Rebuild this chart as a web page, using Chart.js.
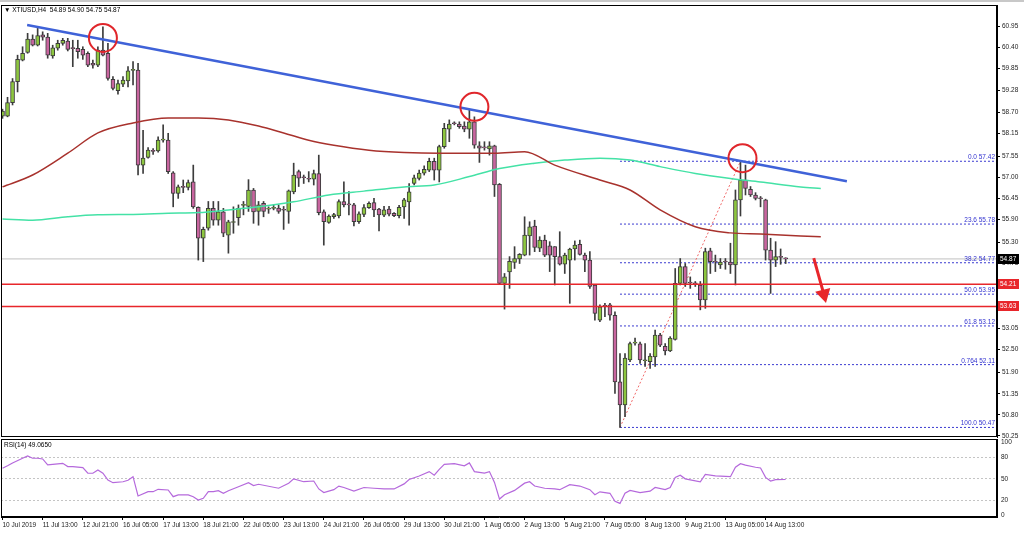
<!DOCTYPE html>
<html lang="en">
<head>
<meta charset="UTF-8">
<title>XTIUSD H4</title>
<script src="https://cdn.jsdelivr.net/npm/chart.js"></script>
<style>
    body { margin: 0; background: #fff; }
    #wrap { position: relative; width: 1024px; height: 534px; overflow: hidden; background: #fff; }
    #topbar { position: absolute; left: 0; top: 0; width: 1024px; height: 2px; background: #c8c8c8; }
    #priceChart { position: absolute; left: 0; top: 0; }
    #rsiChart { position: absolute; left: 0; top: 438px; }
    .hdr { position: absolute; font: 6.5px "Liberation Sans", Arial, sans-serif; color: #000; white-space: pre; }
</style>
</head>
<body>
<div id="wrap">
    <canvas id="priceChart" width="1024" height="438"></canvas>
    <canvas id="rsiChart" width="1024" height="96"></canvas>
    <div id="topbar"></div>
    <div class="hdr" style="left:4px; top:6px;">▼ XTIUSD,H4  54.89 54.90 54.75 54.87</div>
    <div class="hdr" style="left:4px; top:441px;">RSI(14) 49.0650</div>
</div>
<script>
// H4 candles, index 0 = 10 Jul 2019
const opens = [58.60,58.60,58.95,59.50,60.06,60.26,60.61,60.45,60.72,60.66,60.17,60.37,60.50,60.56,60.37,60.37,60.34,60.24,59.98,59.93,
    60.32,60.24,59.56,59.26,59.43,59.52,59.79,59.80,57.32,57.52,57.69,57.69,57.97,57.97,57.12,56.58,56.76,56.74,56.88,56.22,
    55.41,55.67,56.19,55.88,56.10,55.49,55.82,55.95,56.27,56.24,56.67,56.11,56.32,56.17,56.19,56.20,56.15,56.11,56.62,57.15,
    57.00,56.96,56.95,57.10,56.10,55.82,55.97,55.99,56.37,56.29,56.28,55.84,56.03,56.21,56.34,56.17,56.01,56.17,56.06,56.00,
    56.23,56.36,56.84,56.97,57.11,57.19,57.42,57.19,57.80,58.26,58.41,58.39,58.34,58.26,58.45,57.82,57.78,57.74,57.82,56.82,
    54.23,54.53,54.78,54.87,54.97,55.47,55.73,55.15,55.36,55.21,55.19,54.93,54.73,54.84,55.13,55.25,54.97,54.84,54.19,53.27,
    53.64,53.67,53.40,51.66,51.06,52.23,52.67,52.65,52.21,52.19,52.31,52.88,52.59,52.47,52.77,54.23,54.67,54.25,54.23,54.19,
    53.80,55.08,54.80,54.71,54.80,54.79,54.71,56.41,56.93,56.69,56.54,56.45,56.41,55.10,54.84,54.92,54.89];
const highs = [58.78,59.09,59.58,60.19,60.41,60.76,60.72,60.89,60.80,60.76,60.45,60.58,60.63,60.63,60.58,60.58,60.41,60.28,60.06,60.41,
    60.93,60.50,59.63,59.54,59.63,59.89,60.02,59.98,58.23,57.78,57.75,58.06,58.37,58.15,57.15,56.80,56.93,56.93,57.32,56.23,
    55.70,56.37,56.37,56.37,56.19,55.88,56.23,56.28,56.37,56.94,56.71,56.37,56.37,56.23,56.28,56.28,56.24,56.67,57.37,57.19,
    57.06,57.15,57.19,57.58,56.15,56.02,56.06,56.41,56.88,56.63,56.32,56.10,56.29,56.36,56.45,56.19,56.24,56.24,56.08,56.27,
    56.45,56.84,57.06,57.19,57.30,57.50,57.50,57.84,58.41,58.50,58.45,58.45,58.45,58.76,58.58,57.93,57.93,57.93,57.84,56.84,
    54.49,54.93,55.19,55.01,55.97,55.84,55.88,55.45,55.49,55.32,55.19,55.58,55.02,55.15,55.34,55.36,55.02,55.06,54.19,53.67,
    53.71,53.71,53.49,52.40,52.40,52.70,52.80,52.70,52.66,52.40,53.01,52.93,52.66,52.84,54.62,54.88,54.75,54.40,54.28,54.28,
    55.15,55.15,54.97,54.88,54.88,55.28,56.67,57.42,57.32,56.76,56.60,56.50,56.43,55.41,55.32,55.13,54.90];
const lows = [58.54,58.58,58.89,59.23,60.04,60.24,60.43,60.43,60.58,60.11,60.11,60.32,60.45,60.30,59.89,60.11,60.08,59.89,59.85,59.89,
    60.17,59.54,59.28,59.17,59.37,59.36,59.41,57.06,57.10,57.50,57.60,57.66,57.92,57.10,56.23,56.45,56.60,56.67,56.19,54.84,
    54.80,55.62,55.75,55.75,55.45,55.02,55.54,55.75,56.02,56.11,55.80,55.75,55.97,56.06,56.15,56.06,55.64,55.80,56.57,56.76,
    56.84,56.88,56.80,56.02,55.23,55.80,55.93,55.94,56.23,56.02,55.73,55.80,55.97,56.19,55.97,55.60,55.97,55.99,55.97,55.94,
    55.93,55.75,56.80,56.93,57.06,57.15,56.93,56.88,57.76,57.93,58.37,58.28,58.19,58.02,57.76,57.39,57.71,57.58,56.50,54.20,
    53.56,54.10,54.62,54.75,54.95,54.97,55.06,55.06,54.93,54.54,54.19,54.71,54.49,53.71,54.84,54.97,54.54,54.10,53.27,53.23,
    53.36,53.27,51.36,50.47,50.75,52.19,52.62,52.14,52.06,52.01,52.06,52.58,52.36,52.45,52.75,54.19,54.15,54.10,54.15,53.54,
    53.58,54.49,54.54,54.62,54.60,54.49,54.19,55.99,56.54,56.50,56.41,56.23,54.84,53.97,54.67,54.73,54.75];
const closes = [58.73,58.95,59.50,60.08,60.24,60.61,60.45,60.70,60.66,60.19,60.38,60.50,60.58,60.34,60.36,60.28,60.19,59.93,59.93,60.32,
    60.19,59.58,59.32,59.45,59.54,59.78,59.82,57.32,57.50,57.71,57.68,57.97,58.00,57.15,56.58,56.75,56.74,56.86,56.23,55.41,
    55.64,56.19,55.88,56.10,55.54,55.84,55.83,56.19,56.29,56.67,56.10,56.28,56.11,56.19,56.20,56.11,56.14,56.65,57.06,56.98,
    56.99,56.95,57.10,56.08,55.84,55.99,56.03,56.37,56.28,56.28,55.84,56.05,56.21,56.32,56.15,56.02,56.15,56.04,56.00,56.22,
    56.41,56.62,56.99,57.11,57.21,57.42,57.19,57.80,58.28,58.39,58.40,58.32,58.26,58.45,57.84,57.76,57.77,57.82,56.80,54.23,
    54.40,54.81,54.88,54.99,55.49,55.71,55.17,55.36,54.97,54.97,54.93,54.73,54.97,55.13,55.23,54.99,54.84,54.15,53.45,53.62,
    53.63,53.40,51.66,51.06,52.28,52.66,52.68,52.23,52.22,52.33,52.88,52.62,52.47,52.80,54.23,54.67,54.23,54.24,54.22,53.80,
    55.06,54.80,54.79,54.79,54.79,54.71,56.41,56.93,56.71,56.54,56.45,56.44,55.10,54.84,54.93,54.91,54.87];

// moving averages (red = slow, green = slower), sampled at candle indices
const ma1Idx = [0,6,13,19,26,33,39,45,51,56,61,66,73,80,87,98,104,110,119,125,131,138,145,151,159,163];
const ma1Val = [56.75,57.06,57.63,58.16,58.42,58.55,58.55,58.50,58.34,58.16,57.97,57.84,57.71,57.65,57.63,57.63,57.67,57.32,56.93,56.67,56.15,55.71,55.55,55.52,55.47,55.45];
const ma2Idx = [0,6,13,19,26,33,39,45,51,58,65,72,80,86,93,99,106,112,119,125,131,138,145,151,159,163];
const ma2Val = [55.91,55.88,55.97,56.02,56.03,56.06,56.08,56.15,56.23,56.36,56.54,56.64,56.75,56.80,57.02,57.23,57.37,57.45,57.50,57.45,57.28,57.10,56.97,56.88,56.75,56.71];

// RSI(14)
const rsiIdx = [0,1,2,4,5,6,7,8,9,10,12,13,14,16,17,18,19,20,21,22,24,25,26,27,29,30,31,33,34,35,37,38,39,40,41,42,43,44,45,47,49,50,51,
    55,57,58,60,62,63,64,66,67,68,70,72,74,76,78,80,81,83,85,86,87,88,90,92,93,94,96,97,98,99,100,102,104,105,106,108,110,111,113,115,
    117,118,119,121,122,123,124,125,127,129,130,132,133,134,135,136,139,140,142,145,146,147,148,150,151,152,153,154,156];
const rsiVal = [64.6,68,72,78.4,81.6,78.5,78.5,77.5,69.2,70,71.5,67,67,65.5,57.7,57.7,62.2,57.7,48.4,44.7,46,48,53,26.3,32.2,32.2,35.5,34.6,25.3,27.7,27.7,25.3,20.7,23,32.2,32.2,33.6,29.9,33.6,39.1,44.7,40.6,42.5,
    37,44,50,46,47,36,31,35,40,38,33,38,37,36,36,43,49,54,60,55,63,70,71,68,72,60,58,60,45,22,28,34,44,46,40,37,36,35,42,40,
    35,28,32,30,19,16,30,34,31,33,38,35,38,52,55,50,46,56,54,53,66,71,69,66,65,52,47,49,49.07];

// price axis labels, time axis labels
const priceTicks = [60.95,60.40,59.85,59.28,58.70,58.15,57.55,57.00,56.45,55.90,55.30,54.75,53.05,52.50,51.90,51.35,50.80,50.25];
const timeIdx = [0,8,16,24,32,40,48,56,64,72,80,88,96,104,112,120,128,136,144,152];
const timeLabels = ['10 Jul 2019','11 Jul 13:00','12 Jul 21:00','16 Jul 05:00','17 Jul 13:00','18 Jul 21:00','22 Jul 05:00',
    '23 Jul 13:00','24 Jul 21:00','26 Jul 05:00','29 Jul 13:00','30 Jul 21:00','1 Aug 05:00','2 Aug 13:00','5 Aug 21:00',
    '7 Aug 05:00','8 Aug 13:00','9 Aug 21:00','13 Aug 05:00','14 Aug 13:00'];

// drawn objects
const lastPrice = 54.87;
const supportLevels = [54.21, 53.63];
const fibNames = ['0.0','23.6','38.2','50.0','61.8','0.764','100.0'];
const fibLevels = [57.42,55.78,54.77,53.95,53.12,52.11,50.47];
const fibStart = 123;
const swingIdx = [123, 147];
const swingVal = [50.47, 57.42];
const trendIdx = [4.9, 168.2];
const trendVal = [60.98, 56.90];
const circleIdx = [20, 94, 147.4];
const circleVal = [60.64, 58.84, 57.50];
const arrowIdx = [161.6, 163.6];
const arrowVal = [54.89, 53.95];

const xMin = -0.3, xMax = 198.1;
const font = { family: '"Liberation Sans", Arial, sans-serif', size: 6.5 };

function pts(xs, ys) { return xs.map((x, i) => ({ x: x, y: ys[i] })); }
function hline(v) { return [{ x: xMin, y: v }, { x: xMax, y: v }]; }
function noPad(s) { s.paddingTop = 0; s.paddingBottom = 0; s.paddingLeft = 0; s.paddingRight = 0; }

const bull = '#8dc63f', bear = '#c8659f', edge = '#3c3c3c';
const wickData = opens.map((o, i) => ({ x: i, y: [lows[i], highs[i]] }));
const bodyData = opens.map((o, i) => ({ x: i, y: [Math.min(o, closes[i]), Math.max(o, closes[i])] }));
const bodyColors = opens.map((o, i) => closes[i] >= o ? bull : bear);

function lineDs(data, color, width, extra) {
    return Object.assign({ type: 'line', data: data, borderColor: color, borderWidth: width, pointRadius: 0, fill: false }, extra || {});
}

const frame = {
    id: 'frame',
    afterDraw(chart) {
        const a = chart.chartArea, ctx = chart.ctx;
        ctx.save();
        ctx.strokeStyle = '#000';
        ctx.lineWidth = 1;
        ctx.strokeRect(a.left + 0.5, a.top + 0.5, a.right - a.left - 1, a.bottom - a.top - 1);
        ctx.restore();
    }
};

const priceMarks = {
    id: 'priceMarks',
    afterDraw(chart) {
        const ctx = chart.ctx, y = chart.scales.y, a = chart.chartArea;
        ctx.save();
        ctx.font = '6.5px "Liberation Sans", Arial, sans-serif';
        // fibonacci texts
        ctx.fillStyle = '#3434d0';
        ctx.textAlign = 'right';
        ctx.textBaseline = 'bottom';
        fibLevels.forEach((v, i) => {
            ctx.fillText(fibNames[i] + ' ' + v.toFixed(2), a.right - 2, y.getPixelForValue(v) - 0.5);
        });
        // boxes on the price axis
        ctx.textAlign = 'left';
        ctx.textBaseline = 'middle';
        const boxes = [[lastPrice, '#000'], [supportLevels[0], '#e8262b'], [supportLevels[1], '#e8262b']];
        boxes.forEach(b => {
            const py = Math.round(y.getPixelForValue(b[0]));
            ctx.fillStyle = b[1];
            ctx.fillRect(a.right + 1, py - 5, 21, 10);
            ctx.fillStyle = '#fff';
            ctx.fillText(b[0].toFixed(2), a.right + 3, py + 0.5);
        });
        ctx.restore();
    }
};

new Chart(document.getElementById('priceChart'), {
    type: 'bar',
    data: {
        datasets: [
            lineDs(hline(lastPrice), '#c0c0c0', 1, { order: 20 }),
            lineDs(hline(supportLevels[0]), '#e8262b', 1.5, { order: 1 }),
            lineDs(hline(supportLevels[1]), '#e8262b', 1.5, { order: 1 }),
            ...fibLevels.map(v => lineDs([{ x: fibStart, y: v }, { x: xMax, y: v }], '#3a3ad0', 1, { borderDash: [2, 2], order: 15 })),
            lineDs(pts(swingIdx, swingVal), '#f06a6a', 1, { borderDash: [2, 2], order: 14 }),
            { type: 'bar', data: wickData, backgroundColor: edge, barThickness: 1, grouped: false, order: 12 },
            { type: 'bar', data: bodyData, backgroundColor: bodyColors, borderColor: edge, borderWidth: 1,
              borderSkipped: false, barThickness: 4, minBarLength: 1, grouped: false, order: 11 },
            lineDs(pts(ma1Idx, ma1Val), '#a8322d', 1.5, { cubicInterpolationMode: 'monotone', order: 6 }),
            lineDs(pts(ma2Idx, ma2Val), '#44e2a6', 1.5, { cubicInterpolationMode: 'monotone', order: 6 }),
            lineDs(pts(trendIdx, trendVal), '#3f62d8', 2.5, { order: 3 }),
            lineDs(pts(circleIdx, circleVal), '#e0262b', 0, { showLine: false, pointRadius: 14, pointBorderWidth: 2,
              pointBorderColor: '#e0262b', pointBackgroundColor: 'rgba(0,0,0,0)', order: 2 }),
            lineDs(pts(arrowIdx, arrowVal), '#e8262b', 3, { pointRadius: [0, 6], pointStyle: 'triangle', pointRotation: 166,
              pointBackgroundColor: '#e8262b', pointBorderColor: '#e8262b', order: 2 })
        ]
    },
    options: {
        responsive: false,
        animation: false,
        events: [],
        layout: { autoPadding: false, padding: { left: 1, top: 5, right: 0, bottom: 1 } },
        plugins: { legend: { display: false }, tooltip: { enabled: false } },
        scales: {
            x: { type: 'linear', min: xMin, max: xMax, offset: false, display: false },
            y: {
                position: 'right', min: 50.22, max: 61.5,
                afterBuildTicks: s => { s.ticks = priceTicks.map(v => ({ value: v })); },
                afterFit: s => { s.width = 27; noPad(s); },
                grid: { drawOnChartArea: false, tickLength: 3, color: '#000' },
                border: { color: '#000' },
                ticks: { font: font, color: '#222', padding: 2, callback: v => v.toFixed(2) }
            }
        }
    },
    plugins: [frame, priceMarks]
});

new Chart(document.getElementById('rsiChart'), {
    type: 'line',
    data: {
        datasets: [
            lineDs(pts(rsiIdx, rsiVal), '#b569dc', 1.2)
        ]
    },
    options: {
        responsive: false,
        animation: false,
        events: [],
        layout: { autoPadding: false, padding: { left: 1, top: 1, right: 0, bottom: 0 } },
        plugins: { legend: { display: false }, tooltip: { enabled: false } },
        scales: {
            x: {
                type: 'linear', min: xMin, max: xMax, offset: false,
                afterBuildTicks: s => { s.ticks = timeIdx.map(v => ({ value: v })); },
                afterFit: s => { s.height = 17; noPad(s); },
                grid: { drawOnChartArea: false, tickLength: 3, color: '#000' },
                border: { color: '#000' },
                ticks: { font: font, color: '#222', align: 'start', padding: 1, autoSkip: false, maxRotation: 0,
                         callback: (v, i) => timeLabels[i] }
            },
            y: {
                position: 'right', min: -2.8, max: 105.1,
                afterBuildTicks: s => { s.ticks = [0, 20, 50, 80, 100].map(v => ({ value: v })); },
                afterFit: s => { s.width = 27; noPad(s); },
                grid: { drawTicks: false, color: c => [20, 50, 80].includes(c.tick.value) ? '#c4c4c4' : 'rgba(0,0,0,0)' },
                border: { color: '#000', dash: [2, 2] },
                ticks: { font: font, color: '#222', padding: 4 }
            }
        }
    },
    plugins: [frame]
});
</script>
</body>
</html>
